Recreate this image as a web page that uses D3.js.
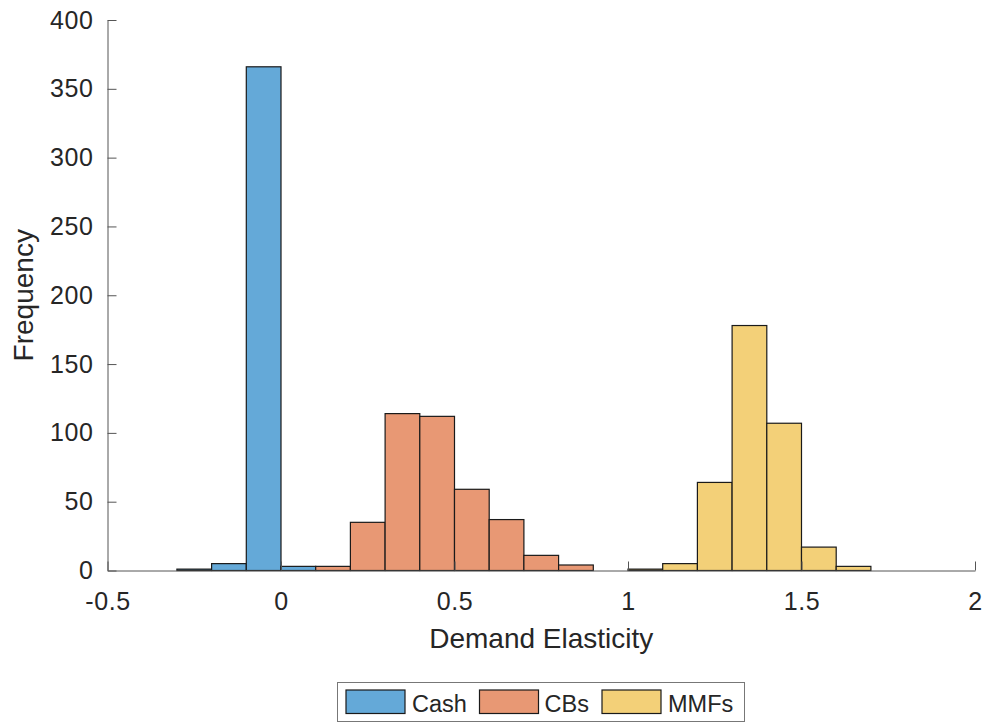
<!DOCTYPE html>
<html>
<head>
<meta charset="utf-8">
<script src="https://cdn.jsdelivr.net/npm/d3@7"></script>
<style>
  body { margin: 0; background: #fff; }
  text { font-family: "Liberation Sans", Arial, sans-serif; fill: #262626; }
</style>
</head>
<body>
<div id="chart"></div>
<script>
// Histogram data (bin width 0.1, left edges)
var cashBins = [-0.3, -0.2, -0.1, 0.0];
var cashCounts = [1, 5, 366, 3];

var cbBins = [0.1, 0.2, 0.3, 0.4, 0.5, 0.6, 0.7, 0.8];
var cbCounts = [3, 35, 114, 112, 59, 37, 11, 4];

var mmfBins = [1.0, 1.1, 1.2, 1.3, 1.4, 1.5, 1.6];
var mmfCounts = [1, 5, 64, 178, 107, 17, 3];

var binWidth = 0.1;
var xTicks = [-0.5, 0, 0.5, 1, 1.5, 2];
var yTicks = [0, 50, 100, 150, 200, 250, 300, 350, 400];
var seriesNames = ["Cash", "CBs", "MMFs"];
var colors = ["#64a9d8", "#e89874", "#f3d078"];

var W = 987, H = 723;
var svg = d3.select("#chart").append("svg")
  .attr("width", W).attr("height", H);

var x = d3.scaleLinear().domain([-0.5, 2]).range([107.5, 975]);
var y = d3.scaleLinear().domain([0, 400]).range([570.5, 20]);

var series = [
  {name: "Cash", bins: cashBins, counts: cashCounts, color: colors[0]},
  {name: "CBs", bins: cbBins, counts: cbCounts, color: colors[1]},
  {name: "MMFs", bins: mmfBins, counts: mmfCounts, color: colors[2]}
];

// Bars
series.forEach(function(s) {
  svg.append("g").selectAll("rect")
    .data(s.bins.map(function(b, i) { return {x0: b, n: s.counts[i]}; }))
    .enter().append("rect")
      .attr("x", function(d) { return x(d.x0); })
      .attr("width", function(d) { return x(d.x0 + binWidth) - x(d.x0); })
      .attr("y", function(d) { return y(d.n); })
      .attr("height", function(d) { return y(0) - y(d.n); })
      .attr("fill", s.color)
      .attr("stroke", "#1a1a1a")
      .attr("stroke-width", 1.2);
});

// Axes (ticks inward, MATLAB style)
var xAxis = svg.append("g")
  .attr("transform", "translate(0," + y(0) + ")")
  .call(d3.axisBottom(x).tickValues(xTicks).tickSizeInner(-9).tickSizeOuter(0)
    .tickFormat(function(d) { return String(d); }));
xAxis.selectAll("text").attr("y", 22).attr("dy", "0.71em");

var yAxis = svg.append("g")
  .attr("transform", "translate(" + x(-0.5) + ",0)")
  .call(d3.axisLeft(y).tickValues(yTicks).tickSizeInner(-9).tickSizeOuter(0));
yAxis.selectAll("text").attr("x", -14);

svg.selectAll(".domain, .tick line").attr("stroke", "#555").attr("stroke-width", 1);
svg.selectAll(".tick text")
  .style("fill", "#262626")
  .style("font-size", "25px")
  .style("letter-spacing", "0.6px");

// Axis labels
svg.append("text")
  .attr("x", x(0.75)).attr("y", 648)
  .attr("text-anchor", "middle")
  .style("font-size", "28px")
  .text("Demand Elasticity");

svg.append("text")
  .attr("transform", "translate(33," + y(200) + ") rotate(-90)")
  .attr("text-anchor", "middle")
  .style("font-size", "28px")
  .text("Frequency");

// Legend
var lg = svg.append("g").attr("transform", "translate(337.5,682.5)");
lg.append("rect")
  .attr("width", 407).attr("height", 39)
  .attr("fill", "#fff").attr("stroke", "#777").attr("stroke-width", 1);

var items = [
  {sx: 8.5, tx: 74.5},
  {sx: 142, tx: 207},
  {sx: 264.5, tx: 330.5}
];
seriesNames.forEach(function(name, i) {
  lg.append("rect")
    .attr("x", items[i].sx).attr("y", 7.5)
    .attr("width", 59).attr("height", 23.5)
    .attr("fill", colors[i]).attr("stroke", "#1a1a1a").attr("stroke-width", 1.2);
  lg.append("text")
    .attr("x", items[i].tx).attr("y", 29)
    .style("font-size", "23.5px")
    .text(name);
});
</script>
</body>
</html>
